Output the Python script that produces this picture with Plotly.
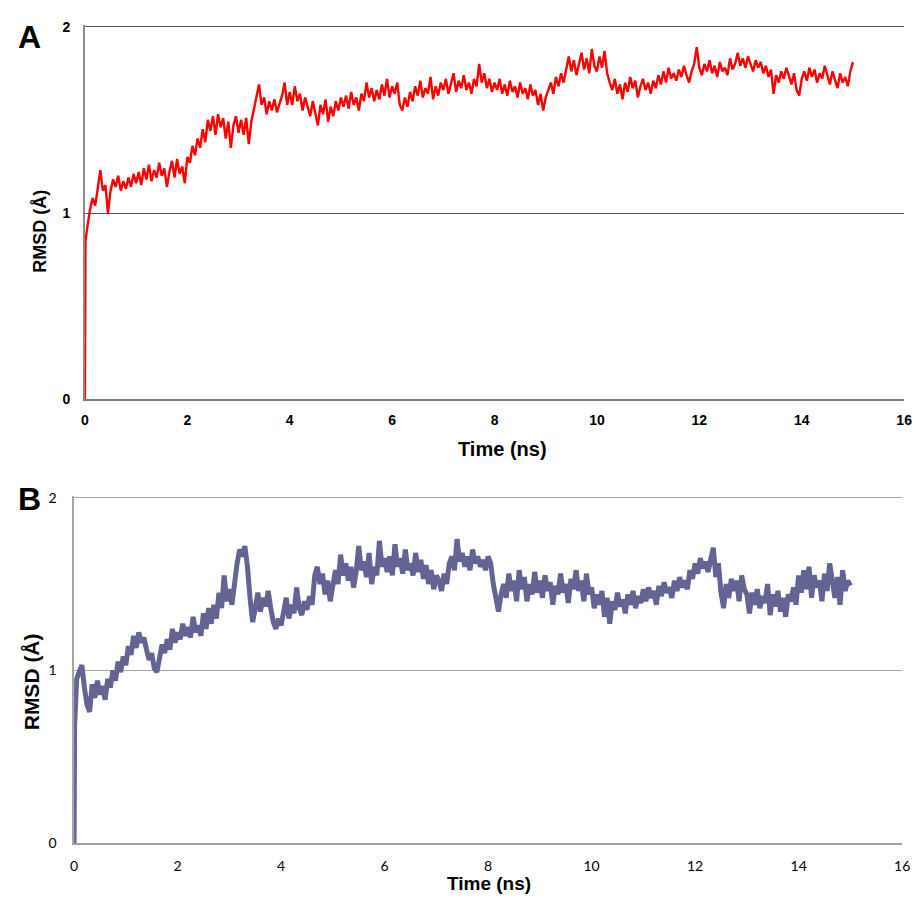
import plotly.graph_objects as go

# ---------------- data ----------------
time_ns = [0.0, 0.01] + [round(0.05 * i, 2) for i in range(1, 301)]

rmsd_a = [0.0, 0.85,
    0.93, 1.02, 1.08, 1.04, 1.13, 1.23, 1.12, 1.15, 1.00, 1.12, 1.18, 1.14, 1.20, 1.12, 1.17, 1.13, 1.19, 1.14, 1.21, 1.16,
    1.22, 1.15, 1.24, 1.18, 1.26, 1.17, 1.23, 1.19, 1.27, 1.20, 1.24, 1.14, 1.22, 1.28, 1.19, 1.29, 1.21, 1.25, 1.16, 1.30,
    1.27, 1.36, 1.31, 1.40, 1.35, 1.45, 1.38, 1.50, 1.44, 1.52, 1.42, 1.53, 1.46, 1.51, 1.40, 1.49, 1.35, 1.47, 1.52, 1.43,
    1.50, 1.42, 1.51, 1.37, 1.49, 1.56, 1.64, 1.69, 1.58, 1.62, 1.53, 1.60, 1.55, 1.61, 1.54, 1.59, 1.63, 1.70, 1.58, 1.65,
    1.58, 1.68, 1.60, 1.64, 1.55, 1.62, 1.57, 1.52, 1.60, 1.54, 1.47, 1.58, 1.53, 1.61, 1.49, 1.57, 1.52, 1.60, 1.55, 1.62,
    1.57, 1.63, 1.56, 1.65, 1.58, 1.62, 1.55, 1.64, 1.60, 1.70, 1.62, 1.67, 1.60, 1.66, 1.61, 1.69, 1.63, 1.72, 1.62, 1.68,
    1.64, 1.70, 1.58, 1.55, 1.62, 1.57, 1.65, 1.60, 1.68, 1.63, 1.71, 1.62, 1.67, 1.64, 1.73, 1.61, 1.68, 1.63, 1.70, 1.66,
    1.72, 1.64, 1.69, 1.75, 1.65, 1.71, 1.67, 1.74, 1.66, 1.70, 1.64, 1.72, 1.68, 1.80, 1.70, 1.75, 1.67, 1.72, 1.65, 1.70,
    1.66, 1.72, 1.64, 1.69, 1.63, 1.71, 1.65, 1.68, 1.62, 1.70, 1.64, 1.67, 1.61, 1.69, 1.63, 1.66, 1.58, 1.64, 1.55, 1.62,
    1.66, 1.70, 1.64, 1.73, 1.68, 1.75, 1.70, 1.78, 1.84, 1.76, 1.82, 1.74, 1.80, 1.86, 1.77, 1.83, 1.75, 1.88, 1.79, 1.76,
    1.84, 1.78, 1.87, 1.75, 1.70, 1.66, 1.72, 1.64, 1.69, 1.61, 1.70, 1.65, 1.73, 1.67, 1.71, 1.62, 1.68, 1.72, 1.66, 1.70,
    1.64, 1.71, 1.67, 1.74, 1.69, 1.76, 1.70, 1.78, 1.72, 1.75, 1.71, 1.77, 1.73, 1.79, 1.74, 1.70, 1.76, 1.80, 1.89, 1.78,
    1.74, 1.80, 1.76, 1.82, 1.75, 1.79, 1.73, 1.81, 1.76, 1.78, 1.74, 1.83, 1.77, 1.80, 1.86, 1.79, 1.83, 1.78, 1.84, 1.80,
    1.76, 1.82, 1.78, 1.81, 1.75, 1.79, 1.73, 1.77, 1.64, 1.74, 1.70, 1.76, 1.72, 1.78, 1.74, 1.69, 1.75, 1.66, 1.63, 1.72,
    1.76, 1.71, 1.78, 1.73, 1.77, 1.70, 1.75, 1.72, 1.79, 1.74, 1.69, 1.76, 1.71, 1.67, 1.75, 1.70, 1.73, 1.68, 1.76, 1.81,
]

rmsd_b = [0.0, 0.68,
    0.95, 1.00, 1.03, 0.90, 0.80, 0.76, 0.92, 0.84, 0.94, 0.86, 0.91, 0.83, 0.95, 0.90, 1.00, 0.94, 1.05, 0.99, 1.08, 1.03,
    1.14, 1.09, 1.20, 1.13, 1.22, 1.16, 1.19, 1.12, 1.06, 1.10, 1.01, 0.99, 1.08, 1.15, 1.10, 1.18, 1.12, 1.24, 1.16, 1.22,
    1.18, 1.27, 1.20, 1.25, 1.19, 1.31, 1.22, 1.26, 1.20, 1.33, 1.24, 1.36, 1.27, 1.38, 1.30, 1.45, 1.36, 1.55, 1.40, 1.47,
    1.38, 1.52, 1.62, 1.70, 1.66, 1.72, 1.60, 1.42, 1.28, 1.36, 1.45, 1.34, 1.42, 1.37, 1.46, 1.36, 1.28, 1.24, 1.30, 1.26,
    1.34, 1.42, 1.30, 1.38, 1.33, 1.48, 1.36, 1.32, 1.40, 1.35, 1.43, 1.38, 1.55, 1.60, 1.50, 1.56, 1.44, 1.52, 1.40, 1.48,
    1.58, 1.50, 1.67, 1.55, 1.62, 1.52, 1.60, 1.48, 1.57, 1.72, 1.58, 1.63, 1.54, 1.68, 1.50, 1.60, 1.55, 1.75, 1.60, 1.65,
    1.57, 1.66, 1.55, 1.73, 1.60, 1.65, 1.56, 1.70, 1.58, 1.62, 1.55, 1.68, 1.57, 1.64, 1.53, 1.61, 1.50, 1.58, 1.47, 1.55,
    1.52, 1.46, 1.56, 1.50, 1.62, 1.66, 1.58, 1.76, 1.63, 1.68, 1.60, 1.66, 1.58, 1.70, 1.62, 1.66, 1.60, 1.64, 1.58, 1.66,
    1.62, 1.50, 1.42, 1.34, 1.44, 1.50, 1.42, 1.56, 1.46, 1.52, 1.40, 1.58, 1.47, 1.54, 1.40, 1.50, 1.44, 1.57, 1.45, 1.52,
    1.42, 1.55, 1.46, 1.51, 1.38, 1.49, 1.44, 1.56, 1.45, 1.50, 1.39, 1.53, 1.47, 1.58, 1.46, 1.52, 1.40, 1.56, 1.44, 1.48,
    1.36, 1.44, 1.38, 1.46, 1.31, 1.42, 1.27, 1.40, 1.35, 1.45, 1.37, 1.41, 1.33, 1.44, 1.38, 1.46, 1.36, 1.43, 1.39, 1.47,
    1.40, 1.48, 1.42, 1.46, 1.38, 1.49, 1.43, 1.51, 1.45, 1.48, 1.42, 1.52, 1.46, 1.54, 1.48, 1.52, 1.47, 1.58, 1.53, 1.62,
    1.56, 1.65, 1.59, 1.63, 1.57, 1.66, 1.71, 1.54, 1.62, 1.45, 1.36, 1.50, 1.42, 1.53, 1.46, 1.52, 1.40, 1.55, 1.47, 1.44,
    1.33, 1.45, 1.38, 1.47, 1.36, 1.43, 1.39, 1.50, 1.32, 1.44, 1.37, 1.46, 1.34, 1.42, 1.31, 1.44, 1.40, 1.48, 1.38, 1.55,
    1.45, 1.58, 1.47, 1.60, 1.42, 1.55, 1.48, 1.52, 1.40, 1.56, 1.46, 1.62, 1.50, 1.42, 1.54, 1.38, 1.58, 1.46, 1.52, 1.49,
]

x_ticks = [0, 2, 4, 6, 8, 10, 12, 14, 16]
y_ticks = [0, 1, 2]

W, H = 921, 907

def px_x(p):
    return p / W

def px_y(p):
    return 1 - p / H

fig = go.Figure()
fig.add_trace(go.Scatter(x=time_ns, y=rmsd_a, mode="lines",
                         line=dict(color="#ff0000", width=2.4), xaxis="x", yaxis="y",
                         showlegend=False, hoverinfo="skip"))
fig.add_trace(go.Scatter(x=time_ns, y=rmsd_b, mode="lines",
                         line=dict(color="#636394", width=5), xaxis="x2", yaxis="y2",
                         showlegend=False, hoverinfo="skip"))

bold_a = dict(family="Liberation Sans, Arial, sans-serif", size=14, color="#000000", weight="bold")
norm_b = dict(family="Lato, Open Sans, sans-serif", size=14, color="#000000")

fig.update_layout(
    width=W, height=H,
    margin=dict(l=0, r=0, t=0, b=0),
    paper_bgcolor="white", plot_bgcolor="white",
    xaxis=dict(domain=[px_x(82), px_x(912)], range=[0, 16], tickvals=x_ticks,
               showgrid=False, zeroline=False, showline=True, linecolor="#7f7f7f", linewidth=1.5,
               ticks="", tickfont=bold_a, anchor="y", ticklabelstandoff=7,
               ticklabeloverflow="allow"),
    yaxis=dict(domain=[px_y(399), px_y(18.1)], range=[0, 2.01], tickvals=y_ticks,
               showgrid=True, gridcolor="#555555", gridwidth=1.2, zeroline=False,
               showline=True, linecolor="#8a8a8a", linewidth=1.5,
               ticks="", tickfont=bold_a, anchor="x", ticklabelstandoff=10),
    xaxis2=dict(domain=[px_x(71), px_x(910)], range=[0, 16], tickvals=x_ticks,
                showgrid=False, zeroline=False, showline=True, linecolor="#a0a0a0", linewidth=1.5,
                ticks="", tickfont=norm_b, anchor="y2", ticklabelstandoff=10,
                ticklabeloverflow="allow"),
    yaxis2=dict(domain=[px_y(850), px_y(497.2)], range=[0, 2.01], tickvals=y_ticks,
                showgrid=True, gridcolor="#a6a6a6", gridwidth=1, zeroline=False,
                showline=True, linecolor="#a6a6a6", linewidth=1.5,
                ticks="", tickfont=norm_b, anchor="x2", ticklabelstandoff=13),
)

title_font = dict(family="Liberation Sans, Arial, sans-serif", size=20, color="#000000", weight="bold")
ann = [
    dict(text="A", x=px_x(26), y=px_y(30), font=dict(family="Liberation Sans, Arial", size=32, color="#000", weight="bold")),
    dict(text="B", x=px_x(26), y=px_y(500), font=dict(family="Liberation Sans, Arial", size=32, color="#000", weight="bold")),
    dict(text="Time (ns)", x=px_x(505), y=px_y(449), font=title_font),
    dict(text="Time (ns)", x=px_x(491), y=px_y(891), font=dict(family="Liberation Sans, Arial", size=19, color="#000", weight="bold")),
    dict(text="RMSD (Å)", x=px_x(37), y=px_y(228), textangle=-90,
         font=dict(family="Liberation Sans, Arial", size=18, color="#000", weight="bold")),
    dict(text="RMSD (Å)", x=px_x(28), y=px_y(686), textangle=-90,
         font=dict(family="Liberation Sans, Arial", size=21, color="#000", weight="bold")),
]
for a in ann:
    a.update(xref="paper", yref="paper", showarrow=False, xanchor="center", yanchor="middle")
fig.update_layout(annotations=ann)

# remove the default 8px page margin so the figure fills the window exactly
fig.write_html("out.html", config={"displayModeBar": False},
               post_script="document.body.style.margin='0';document.documentElement.style.overflow='hidden';")
